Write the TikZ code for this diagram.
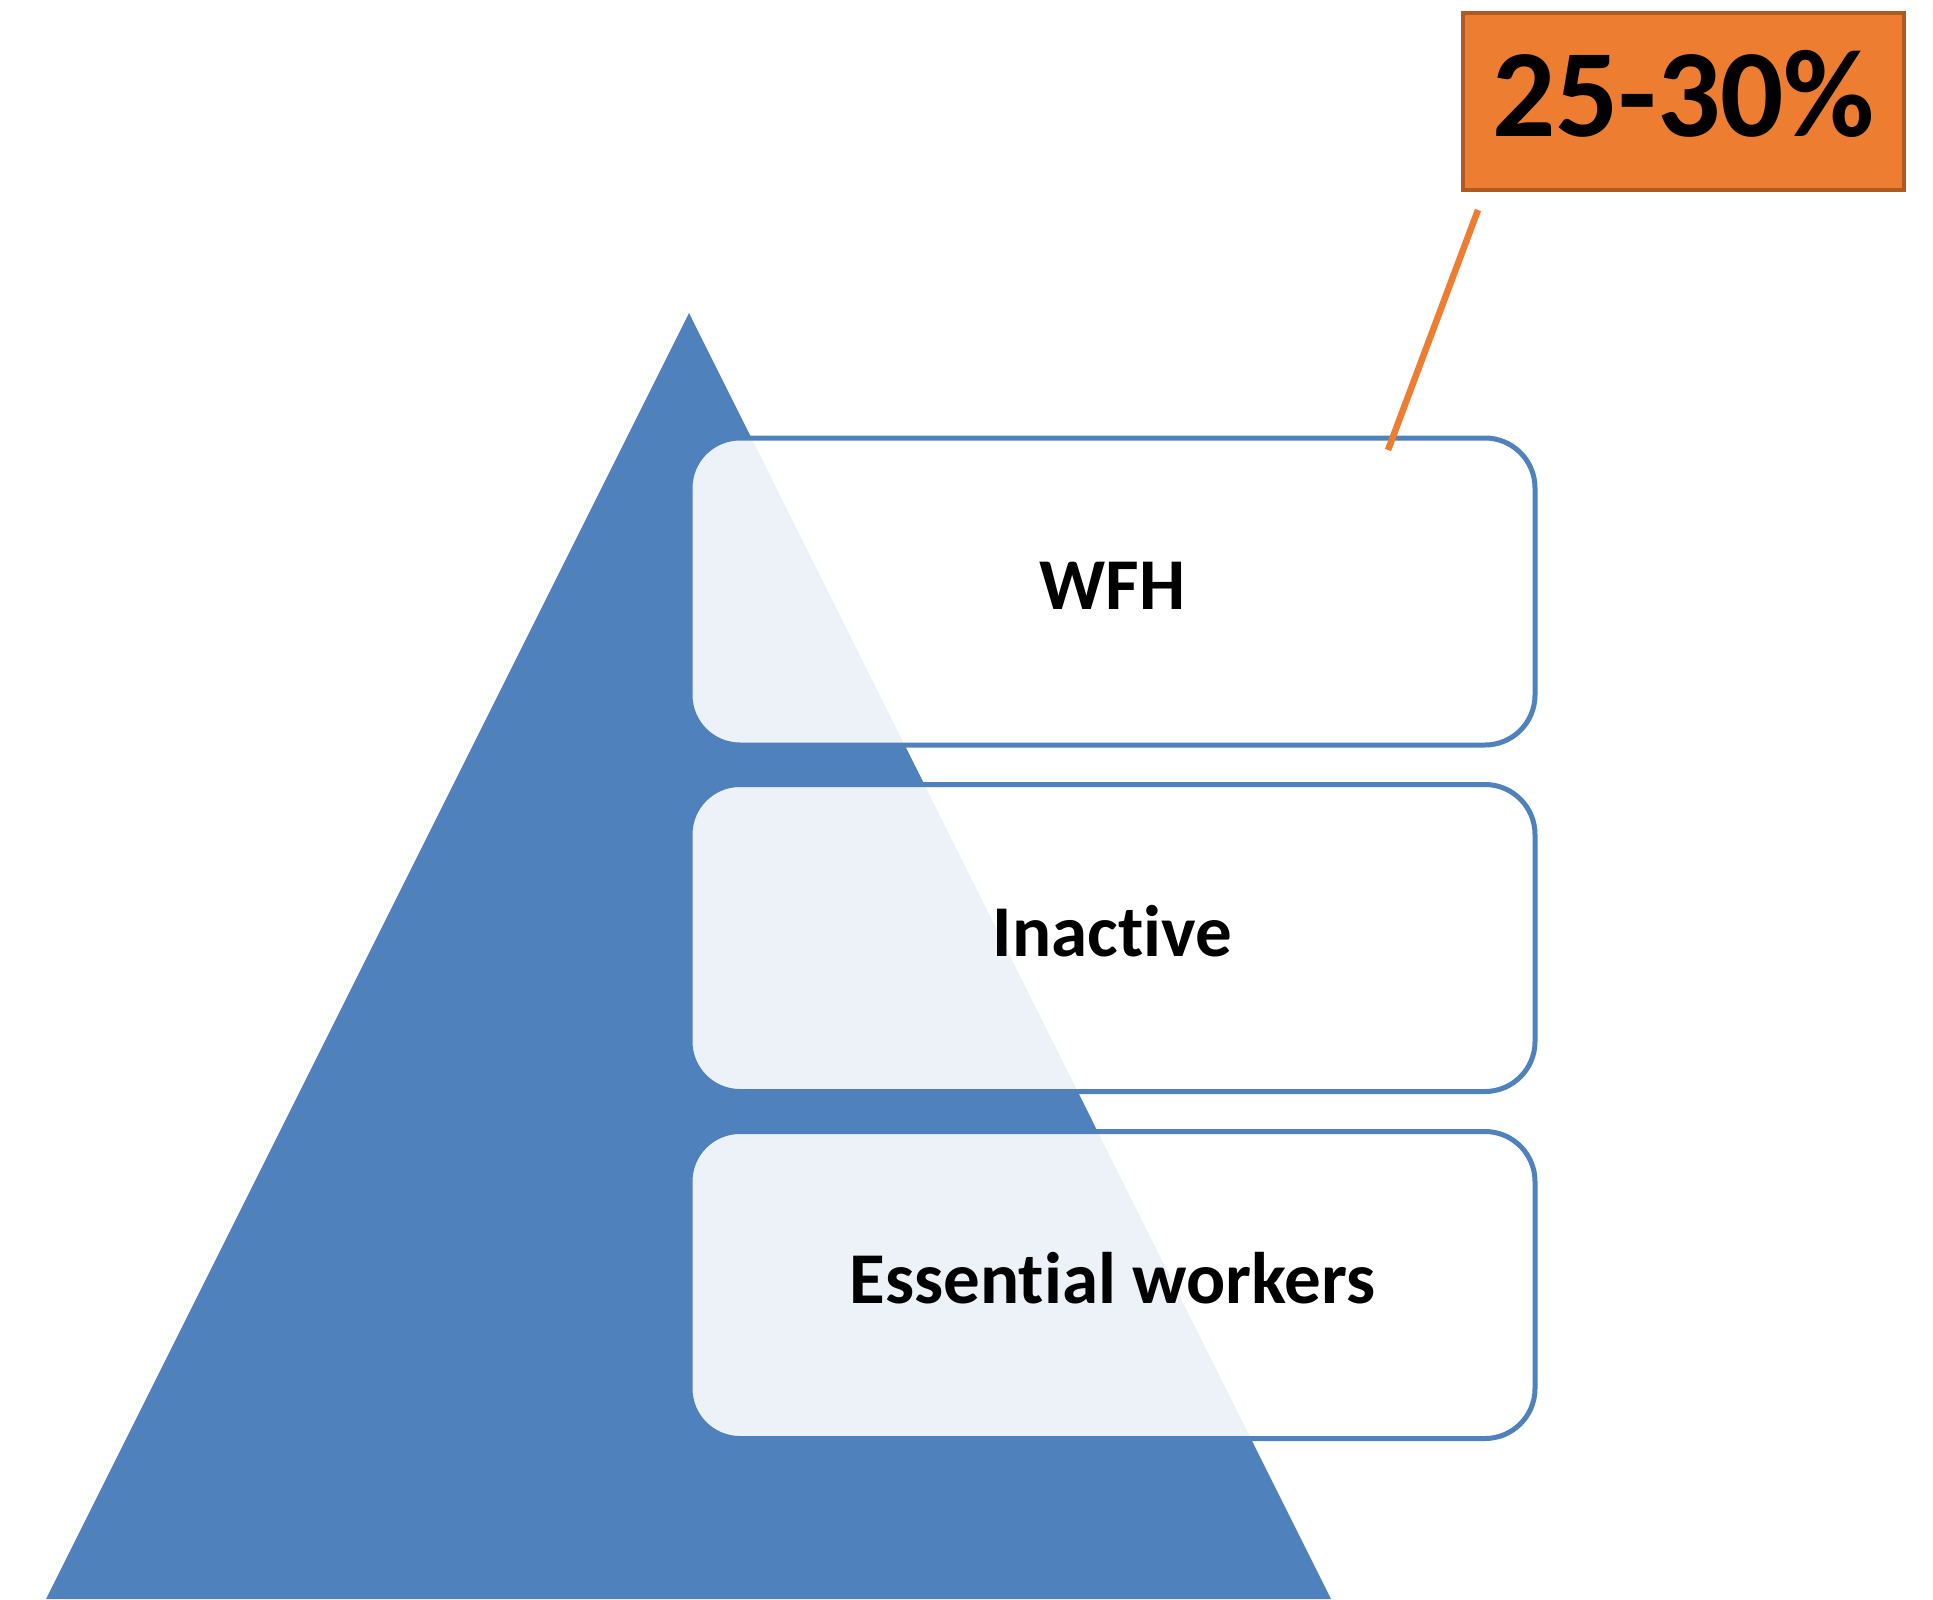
\documentclass[tikz,border=0pt]{standalone}
\usepackage{fontspec}
\setmainfont{Carlito}[Ligatures={NoCommon}]
\definecolor{triblue}{HTML}{4F81BD}
\definecolor{orfill}{HTML}{ED7D31}
\definecolor{ordraw}{HTML}{AE5A21}
\tikzset{
  tier/.style={draw=triblue, line width=5pt, fill=white, fill opacity=0.9, text opacity=1,
    rounded corners=50pt, minimum width=845pt, minimum height=307pt, inner sep=0pt,
    font=\fontsize{73}{88}\selectfont\bfseries, text height=36pt, text depth=0pt},
  pctbox/.style={draw=ordraw, fill=orfill, line width=4.5pt, minimum width=441pt, minimum height=177pt,
    inner sep=0pt, font=\fontsize{125}{150}\selectfont\bfseries, text height=69pt, text depth=0pt},
  callout/.style={draw=orfill, line width=6.5pt}
}
\begin{document}
\begin{tikzpicture}[x=1pt,y=-1pt]
\useasboundingbox (0,0) rectangle (1933,1599);
\fill[triblue] (689,313) -- (1331,1599) -- (46,1599) -- cycle;
\node[tier] (wfh) at (1112.5,591.5) {WFH};
\node[tier] (inactive) at (1112.5,938) {Inactive};
\node[tier] (essential) at (1112.5,1285) {Essential workers};
\node[pctbox] (pct) at (1683.5,101.5) {25-30\%};
\coordinate (calloutstart) at (1478,210);
\coordinate (calloutend) at (1388,450);
\draw[callout] (calloutstart) -- (calloutend);
\end{tikzpicture}
\end{document}
